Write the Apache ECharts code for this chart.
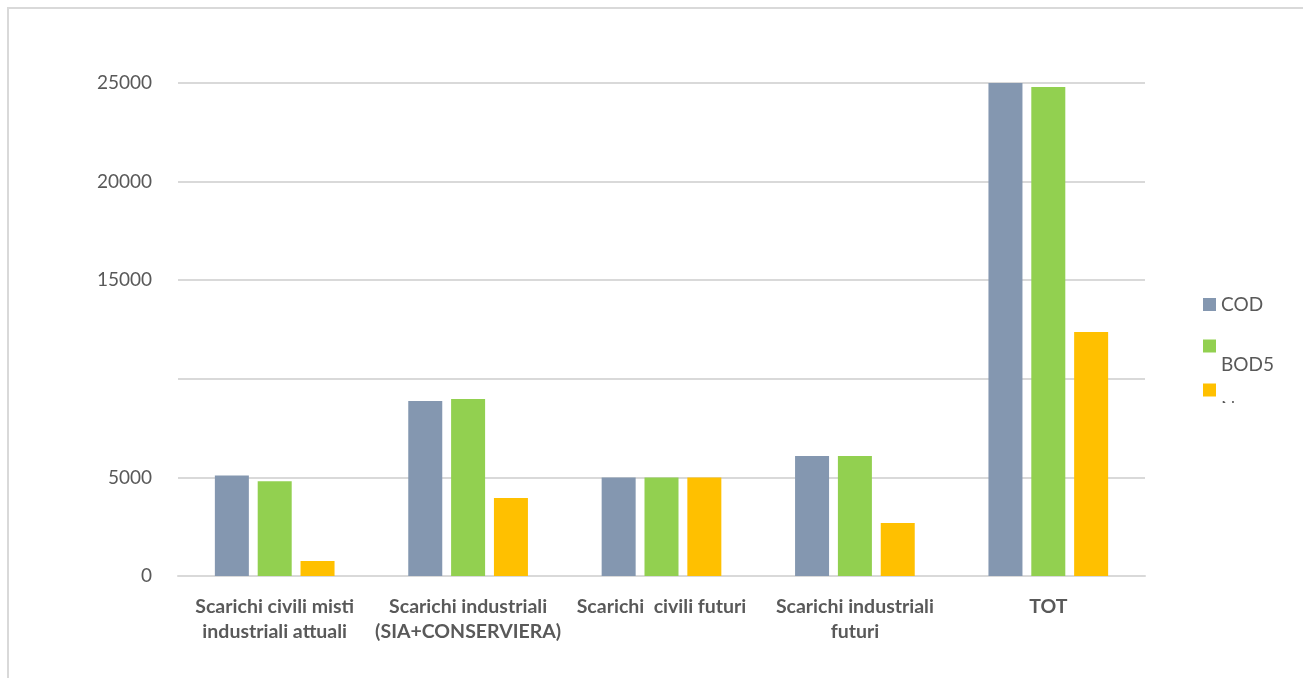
<!DOCTYPE html>
<html>
<head>
<meta charset="utf-8">
<script src="https://cdn.jsdelivr.net/npm/echarts@6/dist/echarts.min.js"></script>
<style>
html,body{margin:0;padding:0;background:#fff;}
#frame{position:absolute;left:7px;top:7px;width:1400px;height:800px;border-left:2px solid #D9D9D9;border-top:2px solid #D9D9D9;}
#chart{position:absolute;left:0;top:0;width:1303px;height:678px;}
</style>
</head>
<body>
<div id="frame"></div>
<div id="chart"></div>
<script>
const categories = [
  'Scarichi civili misti\nindustriali attuali',
  'Scarichi industriali\n(SIA+CONSERVIERA)',
  'Scarichi  civili futuri',
  'Scarichi industriali\nfuturi',
  'TOT'
];
const seriesNames = ['COD', 'BOD5', 'N'];
const codValues  = [5100, 8870, 5000, 6080, 25000];
const bod5Values = [4810, 8980, 5000, 6080, 24800];
const nValues    = [760, 3950, 5000, 2690, 12370];
const yTickLabels = ['0', '5000', '', '15000', '20000', '25000'];

const colors = ['#8497B0', '#92D050', '#FFC000'];
const font = 'Lato, "Open Sans", sans-serif';

const chart = echarts.init(document.getElementById('chart'), null, {renderer: 'canvas'});
const legendBase = {
  orient: 'vertical', left: 1203, itemWidth: 13, itemHeight: 13, icon: 'rect',
  selectedMode: false, padding: 0,
  textStyle: {fontFamily: font, fontSize: 19, color: '#595959'}
};
const shiftedText = {fontFamily: font, fontSize: 19, color: '#595959', lineHeight: 38};
chart.setOption({
  animation: false,
  color: colors,
  grid: {left: 178, right: 158, top: 83, bottom: 102, containLabel: false},
  legend: [
    Object.assign({}, legendBase, {top: 295, data: [seriesNames[0]]}),
    Object.assign({}, legendBase, {top: 308, data: [seriesNames[1]],
      formatter: function (n) { return '\n' + n; }, textStyle: shiftedText}),
    Object.assign({}, legendBase, {top: 352, data: [seriesNames[2]],
      formatter: function (n) { return '\n' + n; }, textStyle: shiftedText})
  ],
  graphic: [{
    type: 'rect', z: 100, left: 1215, top: 403,
    shape: {width: 80, height: 40}, style: {fill: '#fff'}
  }],
  xAxis: {
    type: 'category', data: categories,
    axisLine: {lineStyle: {color: '#D9D9D9', width: 2}},
    axisTick: {show: false},
    axisLabel: {interval: 0, margin: 18, fontFamily: font, fontWeight: 'bold', fontSize: 19.5,
      color: '#595959', lineHeight: 25}
  },
  yAxis: {
    type: 'value', min: 0, max: 25000, interval: 5000,
    axisLine: {show: false}, axisTick: {show: false},
    splitLine: {lineStyle: {color: '#D9D9D9', width: 2}},
    axisLabel: {margin: 26, fontFamily: font, fontSize: 19, color: '#595959',
      formatter: function (v) { return yTickLabels[Math.round(v / 5000)]; }}
  },
  series: [
    {name: seriesNames[0], type: 'bar', data: codValues, barWidth: 34, barGap: '26%'},
    {name: seriesNames[1], type: 'bar', data: bod5Values, barWidth: 34, barGap: '26%'},
    {name: seriesNames[2], type: 'bar', data: nValues, barWidth: 34, barGap: '26%'}
  ]
});
</script>
</body>
</html>
